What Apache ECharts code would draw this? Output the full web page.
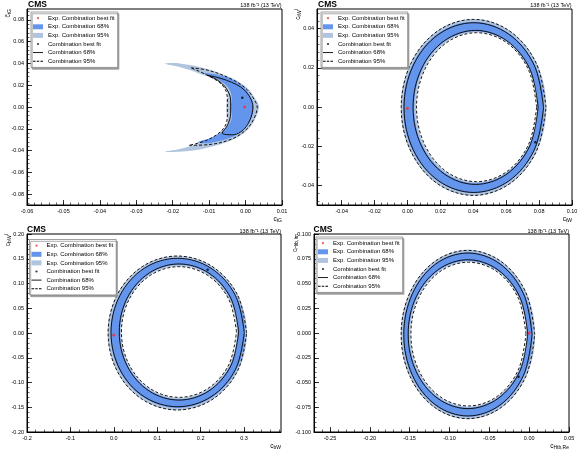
<!DOCTYPE html>
<html><head><meta charset="utf-8">
<script src="https://cdn.jsdelivr.net/npm/echarts@6/dist/echarts.min.js"></script>
<style>html,body{margin:0;padding:0;background:#fff}#c{width:580px;height:450px}</style>
</head><body><div id="c"></div>
<script>
// ---------------- DATA ----------------
// Panel 1 (crescent)
const p1XTicks = [-0.06,-0.05,-0.04,-0.03,-0.02,-0.01,0.00,0.01];
const p1YTicks = [-0.08,-0.06,-0.04,-0.02,0.00,0.02,0.04,0.06,0.08];
const p1XRange = [-0.06, 0.01];
const p1YRange = [-0.09, 0.09];
const p1Exp95 = [[-0.0221,0.0397],[-0.0181,0.0400],[-0.0108,0.0352],[-0.0035,0.0261],[0.0006,0.0170],[0.0029,0.0064],[0.0037,0.0000],[0.0027,-0.0103],[0.0006,-0.0209],[-0.0035,-0.0300],[-0.0108,-0.0376],[-0.0163,-0.0406],[-0.0221,-0.0410],[-0.0181,-0.0385],[-0.0126,-0.0330],[-0.0071,-0.0239],[-0.0050,-0.0148],[-0.0052,-0.0057],[-0.0052,0.0034],[-0.0050,0.0139],[-0.0071,0.0230],[-0.0126,0.0306],[-0.0181,0.0367]];
const p1Exp68 = [[-0.0117,0.0312],[-0.0053,0.0275],[-0.0007,0.0185],[0.0016,0.0079],[0.0022,0.0000],[0.0016,-0.0103],[-0.0007,-0.0209],[-0.0044,-0.0285],[-0.0099,-0.0330],[-0.0131,-0.0324],[-0.0090,-0.0276],[-0.0053,-0.0194],[-0.0038,-0.0103],[-0.0040,0.0000],[-0.0038,0.0094],[-0.0049,0.0185],[-0.0080,0.0261]];
const p1Obs68 = [[-0.0104,0.0291],[-0.0052,0.0245],[-0.0003,0.0155],[0.0020,0.0000],[0.0002,-0.0179],[-0.0035,-0.0255],[-0.0064,-0.0239],[-0.0049,-0.0164],[-0.0041,-0.0057],[-0.0041,0.0064],[-0.0053,0.0170],[-0.0076,0.0245],[-0.0104,0.0291]];
const p1Obs95 = [[-0.0150,0.0360],[-0.0100,0.0335],[-0.0035,0.0250],[0.0004,0.0160],[0.0025,0.0060],[0.0032,0.0000],[0.0024,-0.0100],[0.0004,-0.0200],[-0.0035,-0.0290],[-0.0100,-0.0345],[-0.0156,-0.0352],[-0.0110,-0.0310],[-0.0070,-0.0230],[-0.0052,-0.0140],[-0.0050,-0.0050],[-0.0050,0.0040],[-0.0052,0.0130],[-0.0070,0.0220],[-0.0110,0.0300],[-0.0150,0.0360]];
const p1ExpBest = [[-0.0003,0.0000]];
const p1ObsBest = [[-0.0009,0.0085]];

// Panel 2 (ring)
const p2XTicks = [-0.04,-0.02,0.00,0.02,0.04,0.06,0.08,0.10];
const p2YTicks = [-0.04,-0.02,0.00,0.02,0.04];
const p2XRange = [-0.055, 0.10];
const p2YRange = [-0.05, 0.05];
const p2Exp95Out = [[0.0844,-0.0002],[0.0785,0.0224],[0.0623,0.0389],[0.0402,0.0449],[0.0181,0.0389],[0.0019,0.0224],[-0.0040,-0.0002],[0.0019,-0.0228],[0.0181,-0.0393],[0.0402,-0.0453],[0.0623,-0.0393],[0.0785,-0.0228]];
const p2Exp68Out = [[0.0830,-0.0002],[0.0773,0.0217],[0.0616,0.0376],[0.0402,0.0435],[0.0188,0.0376],[0.0031,0.0217],[-0.0026,-0.0002],[0.0031,-0.0221],[0.0188,-0.0380],[0.0402,-0.0439],[0.0616,-0.0380],[0.0773,-0.0221]];
const p2Exp68In = [[0.0790,-0.0001],[0.0740,0.0193],[0.0603,0.0335],[0.0415,0.0387],[0.0227,0.0335],[0.0090,0.0193],[0.0040,-0.0001],[0.0090,-0.0195],[0.0227,-0.0337],[0.0415,-0.0389],[0.0603,-0.0337],[0.0740,-0.0195]];
const p2Exp95In = [[0.0788,-0.0001],[0.0739,0.0190],[0.0604,0.0330],[0.0420,0.0381],[0.0236,0.0330],[0.0101,0.0190],[0.0052,-0.0001],[0.0101,-0.0192],[0.0236,-0.0332],[0.0420,-0.0383],[0.0604,-0.0332],[0.0739,-0.0192]];
const p2Obs68Out = [[0.0827,-0.0003],[0.0770,0.0214],[0.0615,0.0372],[0.0403,0.0430],[0.0191,0.0372],[0.0036,0.0214],[-0.0021,-0.0003],[0.0036,-0.0220],[0.0191,-0.0378],[0.0403,-0.0436],[0.0615,-0.0378],[0.0770,-0.0220]];
const p2Obs68In = [[0.0794,-0.0002],[0.0743,0.0195],[0.0604,0.0338],[0.0414,0.0391],[0.0224,0.0338],[0.0085,0.0195],[0.0034,-0.0002],[0.0085,-0.0199],[0.0224,-0.0342],[0.0414,-0.0395],[0.0604,-0.0342],[0.0743,-0.0199]];
const p2Obs95Out = [[0.0842,-0.0002],[0.0783,0.0223],[0.0622,0.0387],[0.0402,0.0447],[0.0182,0.0387],[0.0021,0.0223],[-0.0038,-0.0002],[0.0021,-0.0227],[0.0182,-0.0391],[0.0402,-0.0451],[0.0622,-0.0391],[0.0783,-0.0227]];
const p2Obs95In = [[0.0785,-0.0001],[0.0736,0.0189],[0.0603,0.0328],[0.0420,0.0379],[0.0237,0.0328],[0.0104,0.0189],[0.0055,-0.0001],[0.0104,-0.0191],[0.0237,-0.0330],[0.0420,-0.0381],[0.0603,-0.0330],[0.0736,-0.0191]];
const p2ExpBest = [[0.0000,-0.0007]];
const p2ObsBest = [[0.0777,-0.0180]];

// Panel 3 (ring)
const p3XTicks = [-0.2,-0.1,0.0,0.1,0.2,0.3];
const p3YTicks = [-0.20,-0.15,-0.10,-0.05,0.00,0.05,0.10,0.15,0.20];
const p3XRange = [-0.2, 0.385];
const p3YRange = [-0.2, 0.2];
const p3Exp95Out = [[0.3065,0],[0.2850,0.0780],[0.2264,0.1351],[0.1463,0.1560],[0.0662,0.1351],[0.0076,0.0780],[-0.0139,0],[0.0076,-0.0780],[0.0662,-0.1351],[0.1463,-0.1560],[0.2264,-0.1351],[0.2850,-0.0780]];
const p3Exp68Out = [[0.3020,0],[0.2813,0.0757],[0.2246,0.1310],[0.1472,0.1513],[0.0698,0.1310],[0.0131,0.0757],[-0.0076,0],[0.0131,-0.0757],[0.0698,-0.1310],[0.1472,-0.1513],[0.2246,-0.1310],[0.2813,-0.0757]];
const p3Exp68In = [[0.2860,0.002],[0.2678,0.070],[0.2180,0.1198],[0.1500,0.1380],[0.0820,0.1198],[0.0322,0.070],[0.0140,0.002],[0.0322,-0.066],[0.0820,-0.1158],[0.1500,-0.1340],[0.2180,-0.1158],[0.2678,-0.066]];
const p3Exp95In = [[0.2832,0.002],[0.2654,0.0684],[0.2166,0.1169],[0.1500,0.1347],[0.0834,0.1169],[0.0346,0.0684],[0.0168,0.002],[0.0346,-0.0644],[0.0834,-0.1129],[0.1500,-0.1307],[0.2166,-0.1129],[0.2654,-0.0644]];
const p3Obs68Out = [[0.3005,0.001],[0.2799,0.076],[0.2238,0.1309],[0.1470,0.1510],[0.0702,0.1309],[0.0141,0.076],[-0.0065,0.001],[0.0141,-0.074],[0.0702,-0.1289],[0.1470,-0.1490],[0.2238,-0.1289],[0.2799,-0.074]];
const p3Obs68In = [[0.2875,0.002],[0.2691,0.0708],[0.2188,0.1211],[0.1500,0.1395],[0.0812,0.1211],[0.0309,0.0708],[0.0125,0.002],[0.0309,-0.0668],[0.0812,-0.1171],[0.1500,-0.1355],[0.2188,-0.1171],[0.2691,-0.0668]];
const p3Obs95Out = [[0.3058,0],[0.2844,0.0778],[0.2261,0.1347],[0.1463,0.1555],[0.0665,0.1347],[0.0082,0.0778],[-0.0132,0],[0.0082,-0.0778],[0.0665,-0.1347],[0.1463,-0.1555],[0.2261,-0.1347],[0.2844,-0.0778]];
const p3Obs95In = [[0.2825,0.002],[0.2647,0.068],[0.2163,0.1163],[0.1500,0.1340],[0.0837,0.1163],[0.0353,0.068],[0.0175,0.002],[0.0353,-0.064],[0.0837,-0.1123],[0.1500,-0.1300],[0.2163,-0.1123],[0.2647,-0.064]];
const p3ExpBest = [[0.0000,-0.0040]];
const p3ObsBest = [[0.2160,0.1280]];

// Panel 4 (ring)
const p4XTicks = [-0.25,-0.20,-0.15,-0.10,-0.05,0.00,0.05];
const p4YTicks = [-0.100,-0.075,-0.050,-0.025,0.000,0.025,0.050,0.075,0.100];
const p4XRange = [-0.27, 0.05];
const p4YRange = [-0.1, 0.1];
const p4Exp95Out = [[0.0075,-0.0015],[-0.0038,0.0413],[-0.0346,0.0725],[-0.0768,0.0840],[-0.1190,0.0725],[-0.1498,0.0413],[-0.1611,-0.0015],[-0.1498,-0.0443],[-0.1190,-0.0755],[-0.0768,-0.0870],[-0.0346,-0.0755],[-0.0038,-0.0443]];
const p4Exp68Out = [[0.0045,-0.0015],[-0.0064,0.0401],[-0.0361,0.0705],[-0.0768,0.0816],[-0.1175,0.0705],[-0.1472,0.0401],[-0.1581,-0.0015],[-0.1472,-0.0431],[-0.1175,-0.0735],[-0.0768,-0.0846],[-0.0361,-0.0735],[-0.0064,-0.0431]];
const p4Exp68In = [[-0.0025,-0.0012],[-0.0125,0.0360],[-0.0396,0.0631],[-0.0768,0.0731],[-0.1140,0.0631],[-0.1411,0.0360],[-0.1511,-0.0012],[-0.1411,-0.0384],[-0.1140,-0.0655],[-0.0768,-0.0755],[-0.0396,-0.0655],[-0.0125,-0.0384]];
const p4Exp95In = [[-0.0034,-0.0011],[-0.0132,0.0355],[-0.0398,0.0622],[-0.0762,0.0720],[-0.1126,0.0622],[-0.1392,0.0355],[-0.1490,-0.0011],[-0.1392,-0.0377],[-0.1126,-0.0644],[-0.0762,-0.0742],[-0.0398,-0.0644],[-0.0132,-0.0377]];
const p4Obs68Out = [[0.0037,-0.0015],[-0.0071,0.0397],[-0.0366,0.0698],[-0.0768,0.0808],[-0.1171,0.0698],[-0.1465,0.0397],[-0.1573,-0.0015],[-0.1465,-0.0427],[-0.1171,-0.0728],[-0.0768,-0.0838],[-0.0366,-0.0728],[-0.0071,-0.0427]];
const p4Obs68In = [[-0.0018,-0.0012],[-0.0118,0.0364],[-0.0393,0.0639],[-0.0768,0.0740],[-0.1143,0.0639],[-0.1418,0.0364],[-0.1518,-0.0012],[-0.1418,-0.0388],[-0.1143,-0.0663],[-0.0768,-0.0764],[-0.0393,-0.0663],[-0.0118,-0.0388]];
const p4Obs95Out = [[0.0070,-0.0015],[-0.0042,0.0410],[-0.0349,0.0721],[-0.0768,0.0835],[-0.1187,0.0721],[-0.1494,0.0410],[-0.1606,-0.0015],[-0.1494,-0.0440],[-0.1187,-0.0751],[-0.0768,-0.0865],[-0.0349,-0.0751],[-0.0042,-0.0440]];
const p4Obs95In = [[-0.0040,-0.0011],[-0.0137,0.0352],[-0.0401,0.0618],[-0.0762,0.0715],[-0.1123,0.0618],[-0.1387,0.0352],[-0.1484,-0.0011],[-0.1387,-0.0374],[-0.1123,-0.0640],[-0.0762,-0.0737],[-0.0401,-0.0640],[-0.0137,-0.0374]];
const p4ExpBest = [[0.0000,0.0000]];
const p4ObsBest = [[-0.0134,-0.0443]];

const legendNames = ['Exp. Combination best fit','Exp. Combination 68%','Exp. Combination 95%','Combination best fit','Combination 68%','Combination 95%'];
const xTitles = ['c{s|tG}', 'c{s|tW}', 'c{s|bW}', 'c{s|Htb,Re}'];
const yTitles = ['c̃{s|tG}', 'c{s|tW}{u|I}', 'c{s|bW}{u|I}', 'c{s|Htb,Im}'];
const lumiText = '138 fb\u207B\u00B9 (13 TeV)';

// ---------------- STYLE / LAYOUT ----------------
const FONT = '"Liberation Sans", Arial, Helvetica, sans-serif';
const C68 = '#6495ED', C95 = '#B0C4DE';
const GRIDS = [
  {left:27, top:9, width:255, height:196},
  {left:317, top:9, width:255, height:196},
  {left:27, top:234, width:254, height:198},
  {left:314, top:234, width:255, height:198}
];
const LEG = [[31,12],[321,12],[29.5,239.5],[316,237]];
const XDEC = [2,2,1,2], YDEC = [2,2,2,3];
const XMIN = [0.002,0.004,0.02,0.01], YMIN = [0.004,0.004,0.01,0.005];
const panels = [
  {xt:p1XTicks, yt:p1YTicks, xr:p1XRange, yr:p1YRange},
  {xt:p2XTicks, yt:p2YTicks, xr:p2XRange, yr:p2YRange},
  {xt:p3XTicks, yt:p3YTicks, xr:p3XRange, yr:p3YRange},
  {xt:p4XTicks, yt:p4YTicks, xr:p4XRange, yr:p4YRange}
];
const rich = {s:{fontSize:5, fontFamily:FONT, padding:[3,0,0,0]}, u:{fontSize:5, fontFamily:FONT, padding:[0,0,3,0]}};

function minorVals(r, step) {
  const out = [];
  const k0 = Math.ceil(r[0]/step - 1e-6), k1 = Math.floor(r[1]/step + 1e-6);
  for (let k = k0; k <= k1; k++) out.push(+(k*step).toFixed(6));
  return out;
}

const xAxis = [], yAxis = [];
panels.forEach((p, i) => {
  xAxis.push({
    type:'value', gridIndex:i, min:p.xr[0], max:p.xr[1], position:'bottom',
    axisLine:{show:true, onZero:false, lineStyle:{color:'#000', width:1}},
    axisTick:{show:true, inside:true, length:5, customValues:p.xt, lineStyle:{color:'#000', width:0.8}},
    axisLabel:{show:true, customValues:p.xt, fontSize:5.5, fontFamily:FONT, color:'#000', margin:3,
      formatter: v => v.toFixed(XDEC[i])},
    splitLine:{show:false},
    name: xTitles[i], nameLocation:'end', nameGap:0, nameMoveOverlap:false,
    nameTextStyle:{fontSize:6.5, fontFamily:FONT, color:'#000', align:'right', verticalAlign:'top', padding:[10,0,0,0], rich:rich}
  });
  xAxis.push({
    type:'value', gridIndex:i, min:p.xr[0], max:p.xr[1], position:'bottom',
    axisLine:{show:false, onZero:false}, axisLabel:{show:false}, splitLine:{show:false},
    axisTick:{show:true, inside:true, length:2.5, customValues:minorVals(p.xr, XMIN[i]), lineStyle:{color:'#000', width:0.6}}
  });
  yAxis.push({
    type:'value', gridIndex:i, min:p.yr[0], max:p.yr[1], position:'left',
    axisLine:{show:true, onZero:false, lineStyle:{color:'#000', width:1}},
    axisTick:{show:true, inside:true, length:5, customValues:p.yt, lineStyle:{color:'#000', width:0.8}},
    axisLabel:{show:true, customValues:p.yt, fontSize:5.5, fontFamily:FONT, color:'#000', margin:3,
      formatter: v => v.toFixed(YDEC[i])},
    splitLine:{show:false},
    name: yTitles[i], nameLocation:'end', nameGap:0, nameRotate:90, nameMoveOverlap:false,
    nameTextStyle:{fontSize:6.5, fontFamily:FONT, color:'#000', align:'right', verticalAlign:'bottom', padding:[0,0,15,0], rich:rich}
  });
  yAxis.push({
    type:'value', gridIndex:i, min:p.yr[0], max:p.yr[1], position:'left',
    axisLine:{show:false, onZero:false}, axisLabel:{show:false}, splitLine:{show:false},
    axisTick:{show:true, inside:true, length:2.5, customValues:minorVals(p.yr, YMIN[i]), lineStyle:{color:'#000', width:0.6}}
  });
});

function fillSeries(g, pts, color, name) {
  return {
    type:'custom', name:name, coordinateSystem:'cartesian2d', xAxisIndex:2*g, yAxisIndex:2*g,
    data: pts, itemStyle:{color:color}, silent:true, animation:false,
    encode:{x:0, y:1},
    renderItem: function (params, api) {
      if (params.dataIndex !== 0) return null;
      return {type:'polygon', shape:{points: pts.map(p => api.coord(p)), smooth:0.35}, style:{fill:color, stroke:null}};
    }
  };
}
function lineSeries(g, pts, name, dashed) {
  const closed = pts.slice();
  const a = pts[0], b = pts[pts.length-1];
  if (a[0] !== b[0] || a[1] !== b[1]) closed.push(a);
  return {
    type:'line', name:name, xAxisIndex:2*g, yAxisIndex:2*g, data:closed, smooth:0.35,
    showSymbol:false, symbol:'none', silent:true, animation:false,
    lineStyle:{color:'#000', width:0.9, type: dashed ? [3,2] : 'solid'},
    itemStyle:{color:'#000'}
  };
}
function bestSeries(g, pts, name, color, size) {
  return {type:'scatter', name:name, xAxisIndex:2*g, yAxisIndex:2*g, data:pts, symbol:'circle', symbolSize:size,
    itemStyle:{color:color}, silent:true, animation:false, z:5};
}

const series = [];
series.push(fillSeries(0, p1Exp95, C95, legendNames[2]));
series.push(fillSeries(0, p1Exp68, C68, legendNames[1]));
series.push(lineSeries(0, p1Obs68, legendNames[4], false));
series.push(lineSeries(0, p1Obs95, legendNames[5], true));
series.push(bestSeries(0, p1ExpBest, legendNames[0], '#ff2a2a', 3));
series.push(bestSeries(0, p1ObsBest, legendNames[3], '#000', 2.5));
const rings = [
  [p2Exp95Out,p2Exp68Out,p2Exp68In,p2Exp95In,p2Obs68Out,p2Obs68In,p2Obs95Out,p2Obs95In,p2ExpBest,p2ObsBest],
  [p3Exp95Out,p3Exp68Out,p3Exp68In,p3Exp95In,p3Obs68Out,p3Obs68In,p3Obs95Out,p3Obs95In,p3ExpBest,p3ObsBest],
  [p4Exp95Out,p4Exp68Out,p4Exp68In,p4Exp95In,p4Obs68Out,p4Obs68In,p4Obs95Out,p4Obs95In,p4ExpBest,p4ObsBest]
];
rings.forEach((r, k) => {
  const g = k + 1;
  series.push(fillSeries(g, r[0], C95, legendNames[2]));
  series.push(fillSeries(g, r[1], C68, legendNames[1]));
  series.push(fillSeries(g, r[2], C95, 'inner68'));
  series.push(fillSeries(g, r[3], '#ffffff', 'inner95'));
  series.push(lineSeries(g, r[4], legendNames[4], false));
  series.push(lineSeries(g, r[5], legendNames[4], false));
  series.push(lineSeries(g, r[6], legendNames[5], true));
  series.push(lineSeries(g, r[7], legendNames[5], true));
  series.push(bestSeries(g, r[8], legendNames[0], '#ff2a2a', 3));
  series.push(bestSeries(g, r[9], legendNames[3], '#000', 2.5));
});

function dotIcon(color) {
  const svg = '<svg xmlns="http://www.w3.org/2000/svg" width="20" height="10" viewBox="0 0 20 10"><circle cx="10" cy="5" r="2.2" fill="' + color + '"/></svg>';
  return 'image://data:image/svg+xml;charset=utf-8,' + encodeURIComponent(svg);
}
const SOLID_ICON = 'path://M0,0H10V0.9H0Z';
const DASH_ICON = 'path://M0,0H2.6V0.9H0Z M3.8,0H6.2V0.9H3.8Z M7.4,0H10V0.9H7.4Z';

const legend = LEG.map(pos => ({
  left: pos[0], top: pos[1], orient:'vertical', itemWidth:10, itemHeight:5, itemGap:2.2,
  padding:[3,3,3,2], backgroundColor:'#fff', borderColor:'#888', borderWidth:0.8,
  shadowColor:'#999', shadowOffsetX:1.2, shadowOffsetY:1.8, shadowBlur:0,
  selectedMode:false, animation:false,
  textStyle:{fontSize:6, fontFamily:FONT, color:'#000', lineHeight:6.4},
  data:[
    {name:legendNames[0], icon:dotIcon('#ff2a2a')},
    {name:legendNames[1], icon:'rect', itemStyle:{color:C68}},
    {name:legendNames[2], icon:'rect', itemStyle:{color:C95}},
    {name:legendNames[3], icon:dotIcon('#000000')},
    {name:legendNames[4], icon:SOLID_ICON, itemStyle:{color:'#000'}},
    {name:legendNames[5], icon:DASH_ICON, itemStyle:{color:'#000'}}
  ]
}));

const title = [];
const CMSPOS = [[28,0],[318,0],[27,225.5],[313.5,225.5]];
const LUMIR = [298.3, 8.3, 299, 11];
const LUMIT = [2, 2, 228, 228];
CMSPOS.forEach((p, i) => {
  title.push({text:'CMS', left:p[0], top:p[1], padding:0,
    textStyle:{fontSize:8.5, fontWeight:'bold', fontFamily:FONT, color:'#000'}});
  title.push({text:lumiText, right:LUMIR[i], top:LUMIT[i], padding:0,
    textStyle:{fontSize:5.5, fontWeight:'normal', fontFamily:FONT, color:'#000'}});
});

const chart = echarts.init(document.getElementById('c'), null, {renderer:'canvas'});
chart.setOption({
  animation:false,
  backgroundColor:'#fff',
  title: title,
  legend: legend,
  grid: GRIDS.map(g => Object.assign({show:true, borderColor:'#000', borderWidth:1, backgroundColor:'transparent', containLabel:false, outerBoundsMode:'none'}, g)),
  xAxis: xAxis,
  yAxis: yAxis,
  series: series
});
</script></body></html>
